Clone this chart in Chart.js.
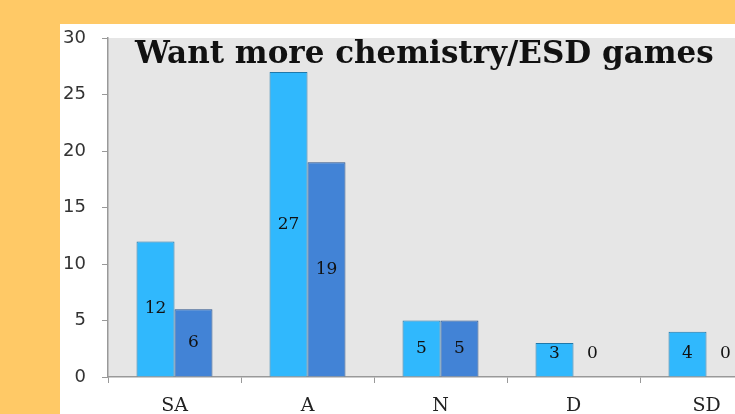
<!DOCTYPE html>
<html>
<head>
<meta charset="utf-8">
<script src="https://cdn.jsdelivr.net/npm/chart.js@4"></script>
<style>
    html, body { margin: 0; padding: 0; }
    body { width: 735px; height: 414px; background: #FFC966; overflow: hidden; position: relative; }
    #panel { position: absolute; left: 60px; top: 24px; width: 716px; height: 390px; background: #fff; }
</style>
</head>
<body>
<div id="panel"><canvas id="surveyChart" width="716" height="390"></canvas></div>
<script>
// Chart data
const chartTitle = 'Want more chemistry/ESD games';
const categories = ['SA', 'A', 'N', 'D', 'SD'];
const firstValues = [12, 27, 5, 3, 4];
const secondValues = [6, 19, 5, 0, 0];
const yMax = 30;
const yStep = 5;

// grey plot area + title inside it
const plotBackground = {
    id: 'plotBackground',
    beforeDraw(chart) {
        const { ctx, chartArea } = chart;
        ctx.save();
        ctx.fillStyle = '#E6E6E6';
        ctx.fillRect(chartArea.left, chartArea.top, chartArea.right - chartArea.left, chartArea.bottom - chartArea.top);
        ctx.restore();
    },
    beforeDatasetsDraw(chart) {
        const ctx = chart.ctx;
        ctx.save();
        ctx.fillStyle = '#111';
        ctx.font = 'bold 31px "DejaVu Serif"';
        ctx.textBaseline = 'alphabetic';
        ctx.fillText(chartTitle, 75, 39);
        ctx.restore();
    }
};

// value labels in the middle of each bar
const barLabels = {
    id: 'barLabels',
    afterDatasetsDraw(chart) {
        const ctx = chart.ctx;
        const zeroY = chart.scales.y.getPixelForValue(0);
        ctx.save();
        ctx.fillStyle = '#111';
        ctx.font = '17px "DejaVu Serif"';
        ctx.textAlign = 'center';
        ctx.textBaseline = 'middle';
        chart.data.datasets.forEach((ds, i) => {
            chart.getDatasetMeta(i).data.forEach((bar, j) => {
                const mid = (bar.y + bar.base) / 2;
                const y = Math.min(mid, zeroY - 23);
                ctx.fillText(String(ds.data[j]), bar.x, y);
            });
        });
        ctx.restore();
    }
};

const ctx = document.getElementById('surveyChart').getContext('2d');
new Chart(ctx, {
    type: 'bar',
    data: {
        labels: categories,
        datasets: [
            {
                label: 'Series 1',
                data: firstValues,
                backgroundColor: '#30B8FD',
                borderColor: '#1F78AA',
                borderWidth: 1,
                categoryPercentage: 0.571,
                barPercentage: 1
            },
            {
                label: 'Series 2',
                data: secondValues,
                backgroundColor: '#4283D6',
                borderColor: '#27518A',
                borderWidth: 1,
                categoryPercentage: 0.571,
                barPercentage: 1
            }
        ]
    },
    options: {
        responsive: false,
        animation: false,
        layout: { padding: { top: 14, right: 3, left: 0, bottom: 0 } },
        plugins: {
            legend: { display: false },
            tooltip: { enabled: false },
            title: { display: false }
        },
        scales: {
            x: {
                afterFit(scale) { scale.height = 37; scale.paddingLeft = 0; scale.paddingRight = 0; },
                grid: { display: true, drawOnChartArea: false, tickLength: 6, color: '#999', offset: true },
                border: { color: '#999', width: 1.5 },
                ticks: {
                    padding: 12,
                    color: '#222',
                    font: { family: '"DejaVu Serif"', size: 19 }
                }
            },
            y: {
                min: 0,
                max: yMax,
                afterFit(scale) { scale.width = 48; scale.paddingTop = 0; scale.paddingBottom = 0; },
                grid: { display: true, drawOnChartArea: false, tickLength: 6, color: '#999' },
                border: { color: '#999', width: 1.5 },
                ticks: {
                    stepSize: yStep,
                    padding: 16,
                    color: '#333',
                    font: { family: '"DejaVu Sans"', size: 18 }
                }
            }
        }
    },
    plugins: [plotBackground, barLabels]
});
</script>
</body>
</html>
